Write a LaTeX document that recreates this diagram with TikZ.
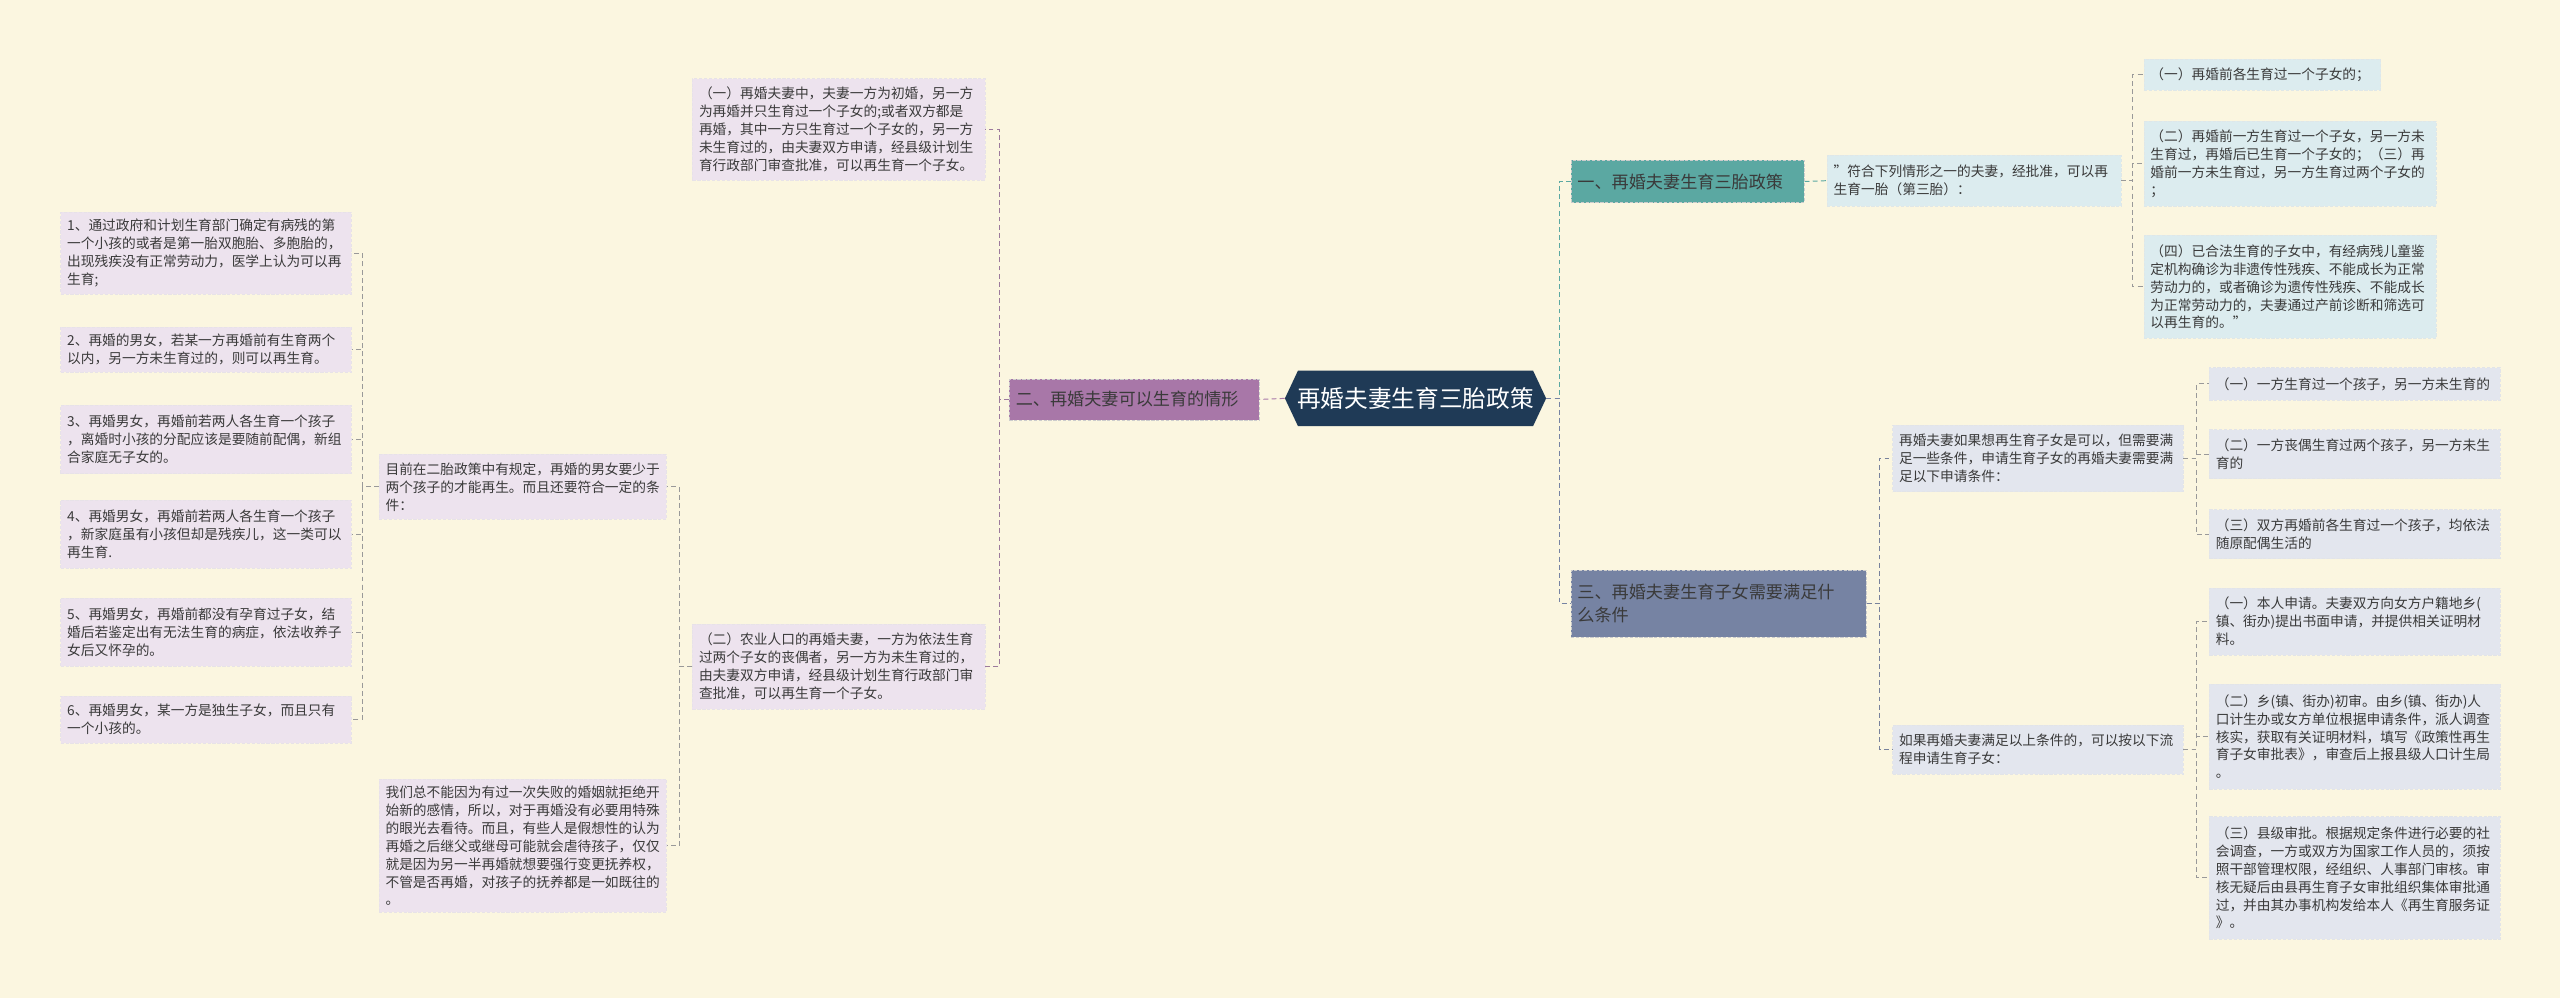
\documentclass[tikz,border=0pt]{standalone}
\usepackage{fontspec}
\setmainfont{Noto Sans CJK SC}
\definecolor{bg}{HTML}{FBF6E0}
\definecolor{lav}{HTML}{EDE3EE}
\definecolor{lblue}{HTML}{DCECEF}
\definecolor{lgray}{HTML}{E3E6EE}
\definecolor{teal1}{HTML}{5BA8A2}
\definecolor{slate}{HTML}{7683A3}
\definecolor{purp}{HTML}{A877A8}
\definecolor{navy}{HTML}{1F3A56}
\definecolor{txt}{HTML}{3A3A3A}
\tikzset{
 box/.style={anchor=north west, inner sep=4pt, align=left, text=txt, font=\fontsize{8.4}{11}\selectfont},
 lv/.style={box, fill=lav, draw=lav!80!gray!60, dash pattern=on 2pt off 1pt, line width=0.3pt},
 lb/.style={box, fill=lblue, draw=lblue!80!gray!60, dash pattern=on 2pt off 1pt, line width=0.3pt},
 lg/.style={box, fill=lgray, draw=lgray!80!gray!60, dash pattern=on 2pt off 1pt, line width=0.3pt},
 br/.style={box, font=\fontsize{10.5}{14}\selectfont, text=txt, draw=white!60!gray, dash pattern=on 2pt off 1pt, line width=0.3pt},
 conn/.style={line width=0.6pt, dash pattern=on 3pt off 2pt},
}
\newcommand\bx[7]{\node[#6, minimum width=#4pt, minimum height=#5pt, text width=\dimexpr#4pt-8pt\relax] (#1) at (#2,#3) {#7};}
\begin{document}
\begin{tikzpicture}[x=1pt,y=-1pt]
\fill[bg] (0,0) rectangle (1568,611);
\useasboundingbox (0,0) rectangle (1568,611);
% center
\fill[navy] (787,244) -- (795,227) -- (939,227) -- (947,244) -- (939,261) -- (795,261) -- cycle;
\node[text=white, font=\fontsize{14.5}{17}\selectfont, inner sep=0pt, minimum width=160pt, minimum height=34pt] (C) at (867,244) {再婚夫妻生育三胎政策};
% left
\bx{L2}{618}{232}{153}{25}{br, fill=purp}{二、再婚夫妻可以生育的情形}
\bx{A}{424}{48}{179}{62}{lv}{（一）再婚夫妻中，夫妻一方为初婚，另一方\\为再婚并只生育过一个子女的;或者双方都是\\再婚，其中一方只生育过一个子女的，另一方\\未生育过的，由夫妻双方申请，经县级计划生\\育行政部门审查批准，可以再生育一个子女。}
\bx{B}{424}{382}{179}{52}{lv}{（二）农业人口的再婚夫妻，一方为依法生育\\过两个子女的丧偶者，另一方为未生育过的，\\由夫妻双方申请，经县级计划生育行政部门审\\查批准，可以再生育一个子女。}
\bx{M}{232}{278}{176}{40}{lv}{目前在二胎政策中有规定，再婚的男女要少于\\两个孩子的才能再生。而且还要符合一定的条\\件：}
\bx{W}{232}{477}{176}{81}{lv}{我们总不能因为有过一次失败的婚姻就拒绝开\\始新的感情，所以，对于再婚没有必要用特殊\\的眼光去看待。而且，有些人是假想性的认为\\再婚之后继父或继母可能就会虐待孩子，仅仅\\就是因为另一半再婚就想要强行变更抚养权，\\不管是否再婚，对孩子的抚养都是一如既往的\\。}
\bx{c1}{37}{130}{178}{50}{lv}{1、通过政府和计划生育部门确定有病残的第\\一个小孩的或者是第一胎双胞胎、多胞胎的，\\出现残疾没有正常劳动力，医学上认为可以再\\生育;}
\bx{c2}{37}{200}{178}{28}{lv}{2、再婚的男女，若某一方再婚前有生育两个\\以内，另一方未生育过的，则可以再生育。}
\bx{c3}{37}{248}{178}{42}{lv}{3、再婚男女，再婚前若两人各生育一个孩子\\，离婚时小孩的分配应该是要随前配偶，新组\\合家庭无子女的。}
\bx{c4}{37}{306}{178}{42}{lv}{4、再婚男女，再婚前若两人各生育一个孩子\\，新家庭虽有小孩但却是残疾儿，这一类可以\\再生育.}
\bx{c5}{37}{366}{178}{42}{lv}{5、再婚男女，再婚前都没有孕育过子女，结\\婚后若鉴定出有无法生育的病症，依法收养子\\女后又怀孕的。}
\bx{c6}{37}{426}{178}{29}{lv}{6、再婚男女，某一方是独生子女，而且只有\\一个小孩的。}
% right
\bx{R1}{962}{98}{143}{26}{br, fill=teal1}{一、再婚夫妻生育三胎政策}
\bx{F}{1119}{95}{180}{31}{lb}{"符合下列情形之一的夫妻，经批准，可以再\\生育一胎（第三胎）：}
\bx{r1}{1313}{36}{145}{19}{lb}{（一）再婚前各生育过一个子女的；}
\bx{r2}{1313}{74}{179}{52}{lb}{（二）再婚前一方生育过一个子女，另一方未\\生育过，再婚后已生育一个子女的；（三）再\\婚前一方未生育过，另一方生育过两个子女的\\；}
\bx{r4}{1313}{144}{179}{63}{lb}{（四）已合法生育的子女中，有经病残儿童鉴\\定机构确诊为非遗传性残疾、不能成长为正常\\劳动力的，或者确诊为遗传性残疾、不能成长\\为正常劳动力的，夫妻通过产前诊断和筛选可\\以再生育的。"}
\bx{R3}{962}{349}{181}{41}{br, fill=slate}{三、再婚夫妻生育子女需要满足什\\么条件}
\bx{K}{1159}{260}{178}{41}{lg}{再婚夫妻如果想再生育子女是可以，但需要满\\足一些条件，申请生育子女的再婚夫妻需要满\\足以下申请条件：}
\bx{k1}{1353}{225}{178}{20}{lg}{（一）一方生育过一个孩子，另一方未生育的}
\bx{k2}{1353}{263}{178}{30}{lg}{（二）一方丧偶生育过两个孩子，另一方未生\\育的}
\bx{k3}{1353}{312}{178}{30}{lg}{（三）双方再婚前各生育过一个孩子，均依法\\随原配偶生活的}
\bx{Q}{1159}{444}{178}{30}{lg}{如果再婚夫妻满足以上条件的，可以按以下流\\程申请生育子女：}
\bx{q1}{1353}{360}{178}{41}{lg}{（一）本人申请。夫妻双方向女方户籍地乡(\\镇、街办)提出书面申请，并提供相关证明材\\料。}
\bx{q2}{1353}{419}{178}{64}{lg}{（二）乡(镇、街办)初审。由乡(镇、街办)人\\口计生办或女方单位根据申请条件，派人调查\\核实，获取有关证明材料，填写《政策性再生\\育子女审批表》，审查后上报县级人口计生局\\。}
\bx{q3}{1353}{500}{178}{75}{lg}{（三）县级审批。根据规定条件进行必要的社\\会调查，一方或双方为国家工作人员的，须按\\照干部管理权限，经组织、人事部门审核。审\\核无疑后由县再生育子女审批组织集体审批通\\过，并由其办事机构发给本人《再生育服务证\\》。}
% connectors
\begin{scope}[conn]
\draw[purp] (C.west) -- (L2.east);
\draw[purp!70!gray] (L2.west) -- ++(-6,0) |- (A.east);
\draw[purp!70!gray] (L2.west) -- ++(-6,0) |- (B.east);
\foreach \c in {M,W} \draw[gray!80] (B.west) -- ++(-8,0) |- (\c.east);
\foreach \c in {c1,c2,c3,c4,c5,c6} \draw[gray!80] (M.west) -- ++(-10,0) |- (\c.east);
\draw[teal1] (C.east) -- ++(8,0) |- (R1.west);
\draw[slate] (C.east) -- ++(8,0) |- (R3.west);
\draw[teal1] (R1.east) -- (F.west);
\foreach \c in {r1,r2,r4} \draw[gray!80] (F.east) -- ++(7,0) |- (\c.west);
\foreach \c in {K,Q} \draw[slate!80!gray] (R3.east) -- ++(8,0) |- (\c.west);
\foreach \c in {k1,k2,k3} \draw[gray!80] (K.east) -- ++(8,0) |- (\c.west);
\foreach \c in {q1,q2,q3} \draw[gray!80] (Q.east) -- ++(8,0) |- (\c.west);
\end{scope}
\end{tikzpicture}
\end{document}
